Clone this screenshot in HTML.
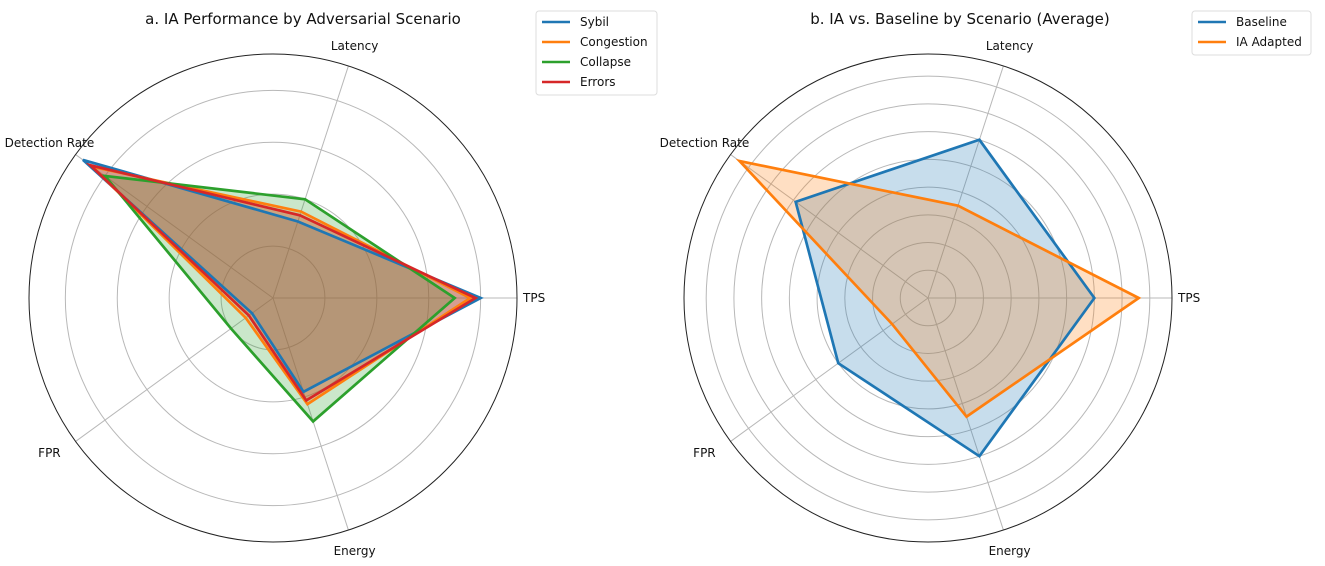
<!DOCTYPE html>
<html><head><meta charset="utf-8">
<style>
body{margin:0;background:#fff;width:1325px;height:561px;overflow:hidden;font-family:"Liberation Sans","DejaVu Sans",sans-serif;}
svg text{font-family:"DejaVu Sans","Liberation Sans",sans-serif;}
</style></head>
<body>
<svg id="chart" width="1325" height="561" viewBox="0 0 1325 561" xmlns="http://www.w3.org/2000/svg">
<g id="pa"></g>
<g id="pb"></g>
</svg>
<script>
const categories = ["TPS","Latency","Detection Rate","FPR","Energy"];
const sybilValues = [0.80,0.31,0.905,0.10,0.38];
const congestionValues = [0.76,0.35,0.86,0.13,0.43];
const collapseValues = [0.70,0.40,0.80,0.20,0.50];
const errorsValues = [0.78,0.335,0.87,0.115,0.415];
const baselineValues = [0.60,0.60,0.59,0.40,0.60];
const iaValues = [0.76,0.35,0.84,0.16,0.45];
const ringTicksA = [0.2,0.4,0.6,0.8];
const ringTicksB = [0.1,0.2,0.3,0.4,0.5,0.6,0.7,0.8];
const NS="http://www.w3.org/2000/svg";
function mk(tag,attrs,parent){const e=document.createElementNS(NS,tag);for(const k in attrs)e.setAttribute(k,attrs[k]);parent.appendChild(e);return e;}

function panel(g,cx,cy,R,rmax,ticks,series,title,titleX,legend){
  const rs=v=>v/rmax*R;
  const ang=i=>i*2*Math.PI/categories.length;
  const pt=(i,v)=>[cx+rs(v)*Math.cos(ang(i)),cy-rs(v)*Math.sin(ang(i))];
  ticks.forEach(t=>{
    const c=mk('circle',{cx:cx,cy:cy,r:rs(t),fill:'none',stroke:'#b8b8b8','stroke-width':1},g);
    
    
  });
  categories.forEach((c,i)=>{
    const p=pt(i,rmax);
    const l=mk('line',{x1:cx,y1:cy,x2:p[0],y2:p[1],stroke:'#b8b8b8','stroke-width':1},g);
    
    
  });
  const oc=mk('circle',{cx:cx,cy:cy,r:R,fill:'none',stroke:'#222','stroke-width':1},g);
  
  
  series.forEach(s=>{
    const pts=s.vals.map((v,i)=>pt(i,v).join(',')).join(' ');
    const f=mk('polygon',{points:pts,fill:s.color,'fill-opacity':0.25,stroke:'none'},g);
    
    
  });
  series.forEach(s=>{
    const pts=s.vals.map((v,i)=>pt(i,v).join(',')).join(' ');
    const p=mk('polygon',{points:pts,fill:'none',stroke:s.color,'stroke-width':2.7,'stroke-linejoin':'miter'},g);
    
    
  });
  categories.forEach((c,i)=>{
    const a=ang(i), d=R+20;
    let x=cx+d*Math.cos(a), y=cy-d*Math.sin(a)+4;
    let anchor='middle';
    if(i===0){x=cx+R+6;anchor='start';}
    if(i===2){x-=10;}
    if(i===3){x-=10;}
    if(i===1){y-=1;}
    if(i===4){y+=2;}
    const t=mk('text',{x:x,y:y,'text-anchor':anchor,'font-size':12,fill:'#111'},g);
    t.textContent=c;
    
    
  });
  const tt=mk('text',{x:titleX,y:24,'text-anchor':'middle','font-size':15,fill:'#111'},g);
  tt.textContent=title;
  
  
  const lb=mk('rect',{x:legend.x,y:11,width:legend.w,height:series.length*20+4,rx:3,fill:'#fff',stroke:'#ddd'},g);
  
  
  series.forEach((s,i)=>{
    const y=22+i*20;
    const l=mk('line',{x1:legend.x+6,y1:y,x2:legend.x+34,y2:y,stroke:s.color,'stroke-width':2.5},g);
    
    
    const t=mk('text',{x:legend.x+44,y:y+4,'font-size':12,fill:'#111'},g);
    t.textContent=s.name;
    
    
  });
}
panel(document.getElementById('pa'),273,298,244,0.94,ringTicksA,[
 {name:'Sybil',vals:sybilValues,color:'#1f77b4'},
 {name:'Congestion',vals:congestionValues,color:'#ff7f0e'},
 {name:'Collapse',vals:collapseValues,color:'#2ca02c'},
 {name:'Errors',vals:errorsValues,color:'#d62728'}],
 'a. IA Performance by Adversarial Scenario',303,{x:536,w:121});
panel(document.getElementById('pb'),928,298,244,0.88,ringTicksB,[
 {name:'Baseline',vals:baselineValues,color:'#1f77b4'},
 {name:'IA Adapted',vals:iaValues,color:'#ff7f0e'}],
 'b. IA vs. Baseline by Scenario (Average)',960,{x:1192,w:119});
</script>
</body></html>
